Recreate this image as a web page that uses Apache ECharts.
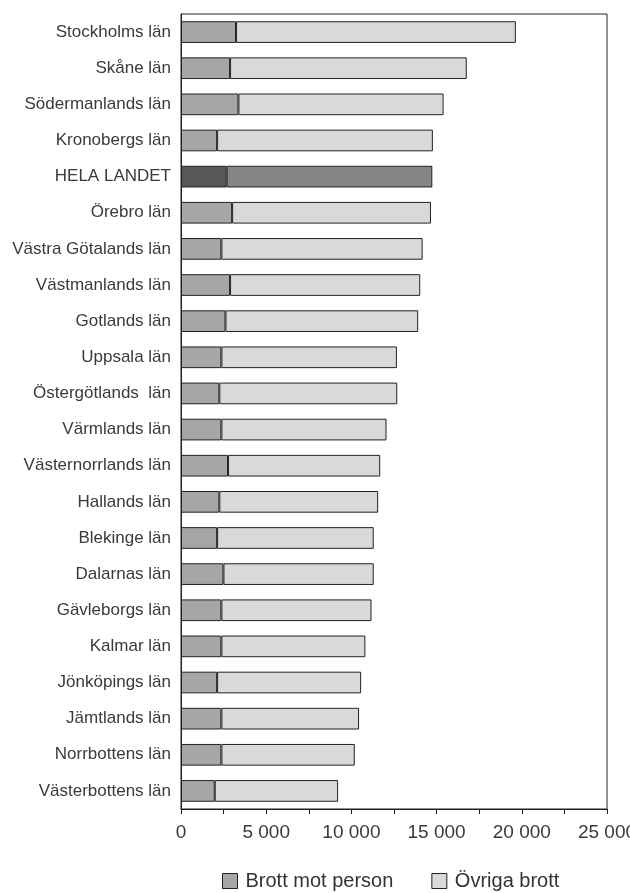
<!DOCTYPE html>
<html>
<head>
<meta charset="utf-8">
<script src="https://cdn.jsdelivr.net/npm/echarts@6/dist/echarts.min.js"></script>
<style>
  html, body { margin: 0; padding: 0; background: #fff; }
  #chart { width: 630px; height: 893px; }
</style>
</head>
<body>
<div id="chart"></div>
<script>
const categories = [
  'Stockholms län', 'Skåne län', 'Södermanlands län', 'Kronobergs län', 'HELA LANDET',
  'Örebro län', 'Västra Götalands län', 'Västmanlands län', 'Gotlands län', 'Uppsala län',
  'Östergötlands  län', 'Värmlands län', 'Västernorrlands län', 'Hallands län', 'Blekinge län',
  'Dalarnas län', 'Gävleborgs län', 'Kalmar län', 'Jönköpings län', 'Jämtlands län',
  'Norrbottens län', 'Västerbottens län'
];
const personValues = [
  3230, 2880, 3370, 2120, 2680,
  3000, 2370, 2880, 2610, 2370,
  2250, 2370, 2760, 2250, 2120,
  2490, 2370, 2370, 2120, 2370,
  2370, 1980
];
const totalValues = [
  19650, 16770, 15410, 14780, 14750,
  14670, 14180, 14040, 13920, 12670,
  12690, 12060, 11690, 11570, 11310,
  11310, 11180, 10820, 10570, 10450,
  10200, 9220
];
const otherValues = totalValues.map((t, i) => t - personValues[i]);
const xTicks = [0, 5000, 10000, 15000, 20000, 25000];

const highlight = 'HELA LANDET';
const chart = echarts.init(document.getElementById('chart'));

function seriesData(values, normal, dark) {
  return values.map((v, i) => categories[i] === highlight
    ? { value: v, itemStyle: { color: dark } }
    : { value: v, itemStyle: { color: normal } });
}

chart.setOption({
  animation: false,
  textStyle: { fontFamily: 'Liberation Sans, Arial, sans-serif' },
  legend: {
    bottom: -3,
    left: 217,
    icon: 'rect',
    itemWidth: 15,
    itemHeight: 15,
    itemGap: 38,
    textStyle: { fontSize: 20, color: '#333', padding: [0, 0, 0, 3] },
    data: [
      { name: 'Brott mot person', itemStyle: { color: '#a6a6a6', borderColor: '#222', borderWidth: 1 } },
      { name: 'Övriga brott', itemStyle: { color: '#d9d9d9', borderColor: '#222', borderWidth: 1 } }
    ]
  },
  grid: {
    left: 181,
    right: 23,
    top: 14,
    bottom: 84,
    outerBoundsMode: 'none',
    show: true,
    borderColor: '#222',
    borderWidth: 1
  },
  xAxis: {
    type: 'value',
    min: 0,
    max: 25000,
    interval: 5000,
    axisLine: { show: true, lineStyle: { color: '#222' } },
    axisTick: { show: true, length: 5, lineStyle: { color: '#222' } },
    minorTick: { show: true, splitNumber: 2, length: 5, lineStyle: { color: '#222' } },
    splitLine: { show: false },
    axisLabel: {
      fontSize: 19,
      color: '#3a3a3a',
      margin: 14,
      formatter: v => xTicks.includes(v) ? String(v).replace(/\B(?=(\d{3})+(?!\d))/g, ' ') : ''
    }
  },
  yAxis: {
    type: 'category',
    inverse: true,
    data: categories,
    axisLine: { show: true, lineStyle: { color: '#222' } },
    axisTick: { show: false },
    axisLabel: { fontSize: 17, color: '#3a3a3a', margin: 10 }
  },
  series: [
    {
      name: 'Brott mot person',
      type: 'bar',
      stack: 'total',
      barCategoryGap: '40%',
      itemStyle: { borderColor: '#222', borderWidth: 1 },
      data: seriesData(personValues, '#a6a6a6', '#575757')
    },
    {
      name: 'Övriga brott',
      type: 'bar',
      stack: 'total',
      barCategoryGap: '40%',
      itemStyle: { borderColor: '#222', borderWidth: 1 },
      data: seriesData(otherValues, '#d9d9d9', '#858585')
    }
  ]
});

window.addEventListener('resize', function () {
  chart.resize();
});
</script>
</body>
</html>
